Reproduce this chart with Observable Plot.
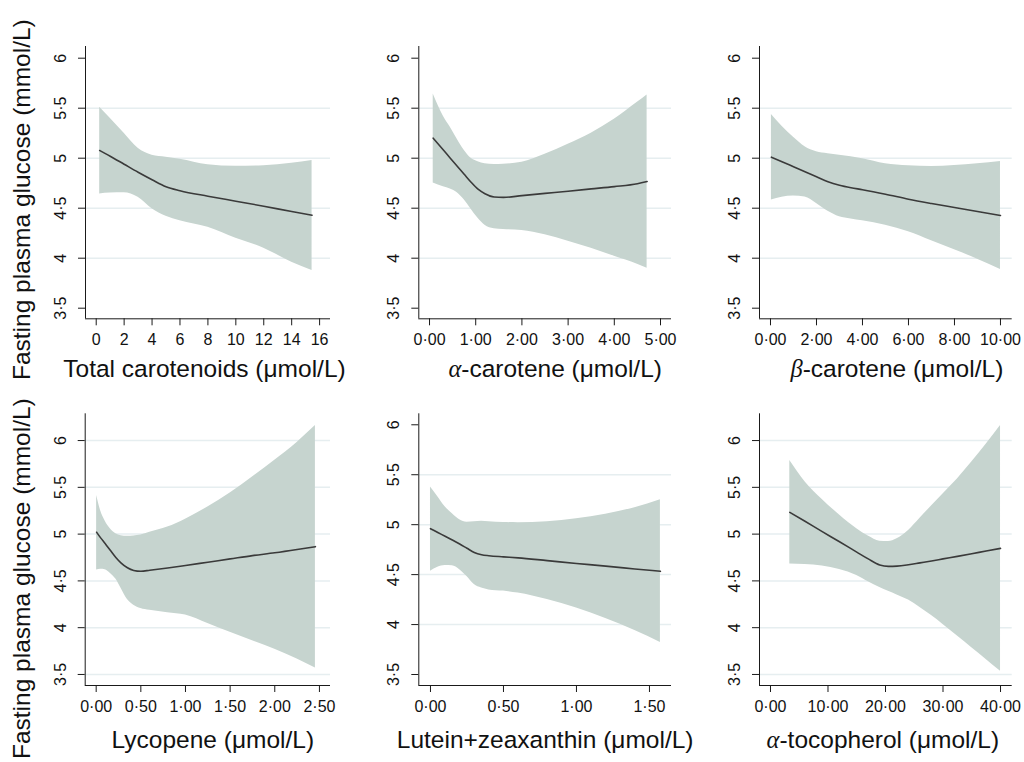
<!DOCTYPE html>
<html>
<head>
<meta charset="utf-8">
<script src="https://cdn.jsdelivr.net/npm/d3@7"></script>
<script src="https://cdn.jsdelivr.net/npm/@observablehq/plot@0.6"></script>
<style>
  body { margin: 0; background: #fff; }
  #chart { position: relative; width: 1024px; height: 762px; overflow: hidden; background: #fff; }
  .cell { position: absolute; }
</style>
</head>
<body>
<div id="chart"></div>
<script>
// ---------------- DATA ----------------
const yTitle = "Fasting plasma glucose (mmol/L)";
const xTitles = [
  "Total carotenoids (μmol/L)",
  "α-carotene (μmol/L)",
  "β-carotene (μmol/L)",
  "Lycopene (μmol/L)",
  "Lutein+zeaxanthin (μmol/L)",
  "α-tocopherol (μmol/L)"
];

const yTicks = [3.5, 4, 4.5, 5, 5.5, 6];
const yTickLabels = ["3·5", "4", "4·5", "5", "5·5", "6"];
const gridInner = [4, 4.5, 5, 5.5];
const gridFull = [3.5, 4, 4.5, 5, 5.5, 6];

// Panel 1: Total carotenoids
const p1X   = [0.25, 1, 2, 3, 4, 5, 6, 8, 10, 12, 14, 15.46];
const p1Fit = [5.077, 5.02, 4.94, 4.86, 4.785, 4.715, 4.675, 4.62, 4.57, 4.52, 4.467, 4.43];
const p1Hi  = [5.51, 5.40, 5.25, 5.10, 5.03, 5.01, 4.99, 4.935, 4.92, 4.925, 4.95, 4.977];
const p1Lo  = [4.643, 4.653, 4.655, 4.61, 4.495, 4.42, 4.375, 4.31, 4.20, 4.10, 3.96, 3.877];
const p1XTicks = [0, 2, 4, 6, 8, 10, 12, 14, 16];
const p1XLabels = ["0", "2", "4", "6", "8", "10", "12", "14", "16"];

// Panel 2: alpha-carotene
const p2X   = [0.08, 0.3, 0.45, 0.6, 0.75, 0.9, 1.05, 1.2, 1.4, 1.6, 2, 2.5, 3, 3.5, 4, 4.5, 4.71];
const p2Fit = [5.2, 5.082, 5.0, 4.92, 4.84, 4.76, 4.69, 4.645, 4.612, 4.608, 4.626, 4.648, 4.67, 4.693, 4.716, 4.745, 4.767];
const p2Hi  = [5.643, 5.42, 5.31, 5.19, 5.08, 5.00, 4.965, 4.945, 4.937, 4.94, 4.96, 5.04, 5.14, 5.25, 5.39, 5.56, 5.633];
const p2Lo  = [4.753, 4.715, 4.693, 4.655, 4.585, 4.49, 4.40, 4.33, 4.295, 4.287, 4.278, 4.235, 4.17, 4.10, 4.02, 3.94, 3.9];
const p2XTicks = [0, 1, 2, 3, 4, 5];
const p2XLabels = ["0·00", "1·00", "2·00", "3·00", "4·00", "5·00"];

// Panel 3: beta-carotene
const p3X   = [0.04, 0.5, 1, 1.5, 2, 2.5, 3, 3.5, 4, 5, 6, 7, 8, 9, 10];
const p3Fit = [5.01, 4.965, 4.915, 4.865, 4.815, 4.765, 4.73, 4.705, 4.685, 4.64, 4.59, 4.547, 4.507, 4.467, 4.427];
const p3Hi  = [5.437, 5.32, 5.21, 5.115, 5.065, 5.045, 5.03, 5.015, 4.995, 4.945, 4.925, 4.918, 4.928, 4.945, 4.967];
const p3Lo  = [4.583, 4.61, 4.622, 4.612, 4.548, 4.47, 4.415, 4.393, 4.375, 4.33, 4.265, 4.175, 4.085, 3.99, 3.887];
const p3XTicks = [0, 2, 4, 6, 8, 10];
const p3XLabels = ["0·00", "2·00", "4·00", "6·00", "8·00", "10·00"];

// Panel 4: Lycopene
const p4X   = [0.005, 0.05, 0.1, 0.16, 0.22, 0.28, 0.35, 0.42, 0.5, 0.6, 0.8, 1.0, 1.25, 1.5, 1.75, 2.0, 2.25, 2.455];
const p4Fit = [5.02, 4.96, 4.90, 4.824, 4.75, 4.69, 4.64, 4.612, 4.603, 4.614, 4.638, 4.665, 4.70, 4.735, 4.77, 4.80, 4.835, 4.866];
const p4Hi  = [5.412, 5.25, 5.14, 5.055, 5.005, 4.983, 4.977, 4.98, 4.99, 5.02, 5.075, 5.16, 5.29, 5.44, 5.61, 5.79, 5.98, 6.16];
const p4Lo  = [4.617, 4.625, 4.62, 4.58, 4.52, 4.42, 4.30, 4.24, 4.205, 4.185, 4.16, 4.135, 4.045, 3.95, 3.86, 3.77, 3.665, 3.569];
const p4XTicks = [0, 0.5, 1, 1.5, 2, 2.5];
const p4XLabels = ["0·00", "0·50", "1·00", "1·50", "2·00", "2·50"];

// Panel 5: Lutein+zeaxanthin
const p5X   = [0, 0.05, 0.1, 0.15, 0.2, 0.25, 0.3, 0.35, 0.4, 0.5, 0.6, 0.8, 1.0, 1.2, 1.4, 1.575];
const p5Fit = [4.96, 4.922, 4.884, 4.846, 4.806, 4.764, 4.722, 4.699, 4.689, 4.678, 4.668, 4.64, 4.612, 4.585, 4.557, 4.533];
const p5Hi  = [5.377, 5.28, 5.18, 5.11, 5.05, 5.025, 5.03, 5.035, 5.03, 5.022, 5.02, 5.03, 5.06, 5.105, 5.17, 5.25];
const p5Lo  = [4.533, 4.575, 4.592, 4.59, 4.55, 4.48, 4.40, 4.365, 4.347, 4.335, 4.315, 4.25, 4.165, 4.06, 3.94, 3.82];
const p5XTicks = [0, 0.5, 1, 1.5];
const p5XLabels = ["0·00", "0·50", "1·00", "1·50"];

// Panel 6: alpha-tocopherol
const p6X   = [3.36, 6, 9, 12, 15, 17, 19, 20.5, 22, 24, 26, 28, 30, 32.5, 35, 37.5, 40];
const p6Fit = [5.233, 5.137, 5.027, 4.918, 4.808, 4.735, 4.67, 4.655, 4.658, 4.673, 4.693, 4.713, 4.735, 4.762, 4.79, 4.82, 4.848];
const p6Hi  = [5.786, 5.56, 5.37, 5.205, 5.058, 4.98, 4.925, 4.92, 4.95, 5.04, 5.17, 5.30, 5.43, 5.59, 5.77, 5.96, 6.16];
const p6Lo  = [4.681, 4.675, 4.658, 4.622, 4.558, 4.49, 4.43, 4.39, 4.35, 4.295, 4.215, 4.13, 4.035, 3.91, 3.785, 3.66, 3.533];
const p6XTicks = [0, 10, 20, 30, 40];
const p6XLabels = ["0·00", "10·00", "20·00", "30·00", "40·00"];

// ---------------- STYLE / LAYOUT ----------------
const FONT = "'Liberation Sans', Arial, Helvetica, sans-serif";
const bandColor = "#c6d4cf";
const lineColor = "#3a3a3a";
const gridColor = "#e6eef0";
const axisColor = "#1a1a1a";

const panels = [
  {x: p1X, fit: p1Fit, lo: p1Lo, hi: p1Hi, xTicks: p1XTicks, xLabels: p1XLabels, grid: gridInner,
   left: 0, top: 0, width: 345, height: 381, mL: 85, mR: 15, mT: 46, mB: 62.7,
   xDomain: [-0.767, 16.78], yDomain: [3.394, 6.117], titleDx: -3.5, titleDy: 50.6, yTitleDy: 17, first: true},
  {x: p2X, fit: p2Fit, lo: p2Lo, hi: p2Hi, xTicks: p2XTicks, xLabels: p2XLabels, grid: gridInner,
   left: 345, top: 0, width: 345, height: 381, mL: 73.3, mR: 19, mT: 46, mB: 62.7,
   xDomain: [-0.232, 5.238], yDomain: [3.394, 6.117], titleDx: 10, titleDy: 50.6},
  {x: p3X, fit: p3Fit, lo: p3Lo, hi: p3Hi, xTicks: p3XTicks, xLabels: p3XLabels, grid: gridInner,
   left: 690, top: 0, width: 334, height: 381, mL: 69, mR: 12.3, mT: 46, mB: 62.7,
   xDomain: [-0.478, 10.51], yDomain: [3.394, 6.117], titleDx: 11, titleDy: 50.6},
  {x: p4X, fit: p4Fit, lo: p4Lo, hi: p4Hi, xTicks: p4XTicks, xLabels: p4XLabels, grid: gridFull,
   left: 0, top: 381, width: 345, height: 381, mL: 84.7, mR: 15, mT: 32.3, mB: 77,
   xDomain: [-0.123, 2.624], yDomain: [3.382, 6.286], titleDx: 5, titleDy: 54.2, yTitleDy: 29, first: true},
  {x: p5X, fit: p5Fit, lo: p5Lo, hi: p5Hi, xTicks: p5XTicks, xLabels: p5XLabels, grid: gridInner,
   left: 345, top: 381, width: 345, height: 381, mL: 73.3, mR: 19, mT: 32.3, mB: 77,
   xDomain: [-0.08, 1.651], yDomain: [3.39, 6.11], titleDx: 0, titleDy: 54.2},
  {x: p6X, fit: p6Fit, lo: p6Lo, hi: p6Hi, xTicks: p6XTicks, xLabels: p6XLabels, grid: gridFull,
   left: 690, top: 381, width: 334, height: 381, mL: 69, mR: 12.3, mT: 32.3, mB: 77,
   xDomain: [-1.91, 42.03], yDomain: [3.382, 6.286], titleDx: -3, titleDy: 54.2}
];

const chart = document.getElementById("chart");

panels.forEach((p, k) => {
  const rows = p.x.map((x, i) => ({x, fit: p.fit[i], lo: p.lo[i], hi: p.hi[i]}));
  const fmtX = v => p.xLabels[p.xTicks.indexOf(v)];
  const fmtY = v => yTickLabels[yTicks.indexOf(v)];
  const marks = [
    Plot.ruleY(p.grid, {stroke: gridColor, strokeWidth: 1.5}),
    Plot.areaY(rows, {x: "x", y1: "lo", y2: "hi", fill: bandColor, curve: "monotone-x"}),
    Plot.lineY(rows, {x: "x", y: "fit", stroke: lineColor, strokeWidth: 1.6, curve: "monotone-x"}),
    Plot.ruleX([p.xDomain[0]], {stroke: axisColor, strokeWidth: 1}),
    Plot.ruleY([p.yDomain[0]], {stroke: axisColor, strokeWidth: 1}),
    Plot.axisX({ticks: p.xTicks, tickFormat: fmtX, tickSize: 7, tickPadding: 8, fontSize: 16,
                stroke: axisColor, fill: "#111", label: null}),
    // y tick marks
    Plot.axisY({ticks: yTicks, tickFormat: () => "", tickSize: 7, stroke: axisColor, strokeWidth: 1, label: null}),
    // y tick labels, rotated as in the original
    Plot.axisY({ticks: yTicks, tickFormat: fmtY, tickSize: 0, tickPadding: 19.5, fontSize: 16,
                tickRotate: -90, textAnchor: "middle", fill: "#111", label: null}),
    Plot.text([xTitles[k]], {frameAnchor: "bottom", dx: p.titleDx, dy: p.titleDy, fontSize: 24.5,
                textAnchor: "middle", lineAnchor: "middle", fill: "#111"})
  ];
  if (p.first) {
    marks.push(Plot.text([yTitle], {frameAnchor: "left", dx: 22 - p.mL, dy: p.yTitleDy, rotate: -90,
                fontSize: 24.5, textAnchor: "middle", lineAnchor: "middle", fill: "#111"}));
  }
  const svg = Plot.plot({
    width: p.width, height: p.height,
    marginLeft: p.mL, marginRight: p.mR, marginTop: p.mT, marginBottom: p.mB,
    x: {domain: p.xDomain, label: null},
    y: {domain: p.yDomain, label: null},
    style: {background: "transparent", overflow: "visible", fontFamily: FONT},
    marks
  });
  // Greek letter as italic serif, like the math font in the original
  d3.select(svg).selectAll("text").each(function () {
    const t = this.textContent;
    if (/^[αβ]-/.test(t) && this.childElementCount === 0) {
      const sel = d3.select(this);
      sel.text(null);
      sel.append("tspan").attr("font-family", "'Liberation Serif', 'DejaVu Serif', serif")
         .attr("font-style", "italic").text(t[0]);
      sel.append("tspan").text(t.slice(1));
    }
  });
  const div = document.createElement("div");
  div.className = "cell";
  div.style.left = p.left + "px";
  div.style.top = p.top + "px";
  div.appendChild(svg);
  chart.appendChild(div);
});
</script>
</body>
</html>
